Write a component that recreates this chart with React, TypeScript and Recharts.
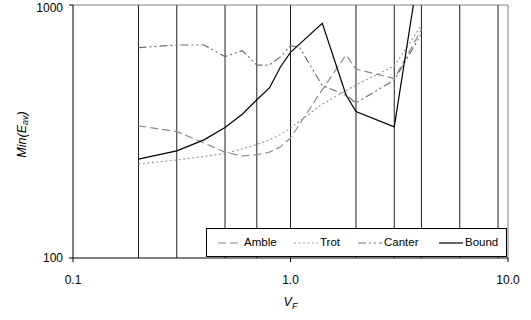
import React from "react";
import { LineChart, Line, XAxis, YAxis, CartesianGrid, ReferenceLine, Legend } from "recharts";

const ambleX = [0.2, 0.3, 0.4, 0.5, 0.6, 0.7, 0.8, 0.9, 1.0, 1.4, 1.8, 2, 3, 4];
const ambleY = [333, 316, 285, 262, 253, 256, 262, 275, 298, 463, 635, 558, 512, 800];

const trotX = [0.2, 0.3, 0.4, 0.5, 0.6, 0.7, 0.8, 0.9, 1.0, 1.4, 2, 3, 4];
const trotY = [235, 244, 252, 259, 270, 281, 293, 308, 326, 406, 483, 574, 830];

const canterX = [0.2, 0.3, 0.4, 0.5, 0.6, 0.7, 0.8, 0.9, 1.0, 1.1, 1.4, 1.8, 2, 3, 4];
const canterY = [678, 695, 695, 625, 660, 579, 579, 625, 690, 680, 480, 440, 410, 505, 770];

const boundX = [0.2, 0.3, 0.4, 0.5, 0.6, 0.7, 0.8, 0.9, 1.0, 1.4, 1.8, 2, 3, 4];
const boundY = [246, 265, 293, 328, 370, 422, 470, 570, 650, 847, 441, 379, 330, 1600];

const xTicks = [0.1, 1, 10];
const yTicks = [100, 1000];
const gridX = [0.2, 0.3, 0.4, 0.5, 0.6, 0.7, 0.8, 0.9, 1, 2, 3, 4, 5, 6, 7, 8, 9];

const toRows = (xs: number[], ys: number[]) => xs.map((x, i) => ({ x, y: ys[i] }));

const series = [
  { name: "Amble", rows: toRows(ambleX, ambleY), color: "#8c8c8c", dash: "8 4" },
  { name: "Trot", rows: toRows(trotX, trotY), color: "#999999", dash: "2 2.5" },
  { name: "Canter", rows: toRows(canterX, canterY), color: "#707070", dash: "8 3 2 3 2 3" },
  { name: "Bound", rows: toRows(boundX, boundY), color: "#000000", dash: undefined as string | undefined },
];

const FONT = "'Liberation Sans', Arial, sans-serif";

const legendOffsets = [11, 87, 151, 232];

const LegendBox = () => (
  <div
    style={{
      position: "relative",
      width: 299,
      height: 27,
      border: "1px solid #000",
      background: "#fff",
      fontFamily: FONT,
      fontSize: 11.5,
      color: "#000",
    }}
  >
    {series.map((s, i) => (
      <div
        key={s.name}
        style={{ position: "absolute", left: legendOffsets[i], top: 0, height: 27, display: "flex", alignItems: "center" }}
      >
        <svg width={24} height={6} style={{ display: "block" }}>
          <line x1={0} y1={3} x2={24} y2={3} stroke={s.color} strokeWidth={1.2} strokeDasharray={s.dash} />
        </svg>
        <span style={{ marginLeft: 2, lineHeight: "27px" }}>{s.name}</span>
      </div>
    ))}
  </div>
);

const YLabel = (props: any) => {
  const vb = props.viewBox || { x: 0, y: 5, width: 73, height: 253 };
  const cx = vb.x + 22;
  const cy = vb.y + vb.height / 2 + 3;
  return (
    <text
      x={cx}
      y={cy}
      transform={`rotate(-90 ${cx} ${cy})`}
      textAnchor="middle"
      dominantBaseline="central"
      fontFamily={FONT}
      fontSize={12.5}
      fontStyle="italic"
      fill="#000"
    >
      Min(E
      <tspan fontSize={9} dy={3}>av</tspan>
      <tspan dy={-3}>)</tspan>
    </text>
  );
};

const XLabel = (props: any) => {
  const vb = props.viewBox || { x: 73, y: 258, width: 435, height: 62 };
  const cx = vb.x + vb.width / 2;
  return (
    <text x={cx} y={vb.y + 48} textAnchor="middle" fontFamily={FONT} fontSize={12.5} fontStyle="italic" fill="#000">
      V
      <tspan fontSize={9} dy={3}>F</tspan>
    </text>
  );
};

export default function App() {
  return (
    <div style={{ position: "absolute", left: 0, top: 0 }}>
      <LineChart width={531} height={320} margin={{ top: 5, right: 23, bottom: 0, left: 0 }}>
        <CartesianGrid horizontal={false} vertical verticalValues={gridX} stroke="#1e1e1e" strokeWidth={1} />
        <ReferenceLine y={1000} stroke="#808080" strokeWidth={1} />
        <ReferenceLine x={10} stroke="#808080" strokeWidth={1} />
        <XAxis
          dataKey="x"
          type="number"
          scale="log"
          domain={[0.1, 10]}
          ticks={xTicks}
          allowDataOverflow
          height={62}
          tickSize={4}
          tickMargin={13}
          tickFormatter={(v: number) => v.toFixed(1)}
          stroke="#000"
          tick={{ fill: "#000", fontSize: 12, fontFamily: FONT }}
          label={<XLabel />}
        />
        <YAxis
          type="number"
          scale="log"
          domain={[100, 1000]}
          ticks={yTicks}
          allowDataOverflow
          width={73}
          tickSize={4}
          tickMargin={6}
          stroke="#000"
          tick={{ fill: "#000", fontSize: 12, fontFamily: FONT }}
          label={<YLabel />}
        />
        {series.map((s) => (
          <Line
            key={s.name}
            data={s.rows}
            dataKey="y"
            name={s.name}
            type="linear"
            stroke={s.color}
            strokeWidth={1.2}
            strokeDasharray={s.dash}
            dot={false}
            activeDot={false}
            isAnimationActive={false}
          />
        ))}
        <Legend
          layout="horizontal"
          verticalAlign="middle"
          align="center"
          content={<LegendBox />}
          wrapperStyle={{ position: "absolute", left: 206, top: 228, width: 301, height: 29 }}
        />
      </LineChart>
    </div>
  );
}
